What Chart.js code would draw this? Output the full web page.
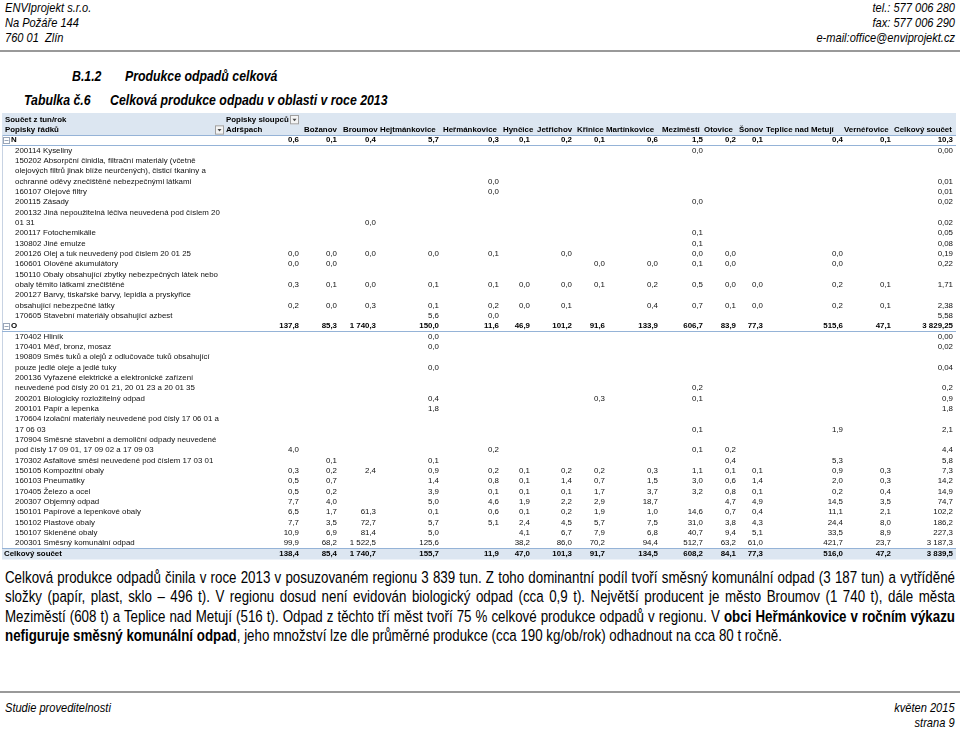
<!DOCTYPE html>
<html lang="cs">
<head>
<meta charset="utf-8">
<title>Celková produkce odpadu v oblasti v roce 2013</title>
<script src="https://cdn.jsdelivr.net/npm/chart.js@4.4.1/dist/chart.umd.min.js"></script>
<style>
  body { margin: 0; width: 960px; height: 731px; position: relative; background: #fff; color: #000;
         font-family: "Liberation Sans", Arial, sans-serif; overflow: hidden; }
  /* Arial Narrow look: Liberation Sans squeezed to 82 % */
  .abs { position: absolute; white-space: nowrap; transform: scaleX(0.82); transform-origin: left top; }
  .abs.r { transform-origin: right top; text-align: right; }
  .it { font-style: italic; font-size: 13.5px; line-height: 15px; }
  .rule { position: absolute; left: 0; width: 960px; height: 2px; background: #999; }
  .title { font-weight: bold; font-style: italic; font-size: 15px; line-height: 18px; }
  #table { position: absolute; left: 0; top: 113px; }
  .para { position: absolute; left: 5px; width: 1158.5px; font-size: 16.25px; line-height: 19.3px;
          transform: scaleX(0.82); transform-origin: left top; }
  .para div { text-align: justify; text-align-last: justify; white-space: nowrap; }
  .para div.last { text-align-last: left; }
</style>
</head>
<body>
<div class="abs it" style="left:5px;top:-0.5px">ENVIprojekt s.r.o.<br>Na Požáře 144<br>760 01&nbsp; Zlín</div>
<div class="abs it r" style="right:5px;top:-0.5px">tel.: 577 006 280<br>fax: 577 006 290<br>e-mail:office@enviprojekt.cz</div>
<div class="rule" style="top:50px"></div>

<div class="abs title" style="left:72px;top:67px">B.1.2</div>
<div class="abs title" style="left:125px;top:67px">Produkce odpadů celková</div>
<div class="abs title" style="left:24px;top:91px">Tabulka č.6</div>
<div class="abs title" style="left:110px;top:91px">Celková produkce odpadu v oblasti v roce 2013</div>

<canvas id="table" width="960" height="447"></canvas>

<div class="para" style="top:568px">
  <div>Celková produkce odpadů činila v roce 2013 v posuzovaném regionu 3 839 tun. Z toho dominantní podíl tvoří směsný komunální odpad (3 187 tun) a vytříděné</div>
  <div>složky (papír, plast, sklo – 496 t). V regionu dosud není evidován biologický odpad (cca 0,9 t). Největší producent je město Broumov (1 740 t), dále města</div>
  <div>Meziměstí (608 t) a Teplice nad Metují (516 t). Odpad z těchto tří měst tvoří 75 % celkové produkce odpadů v regionu. V <b>obci Heřmánkovice v ročním výkazu</b></div>
  <div class="last"><b>nefiguruje směsný komunální odpad</b>, jeho množství lze dle průměrné produkce (cca 190 kg/ob/rok) odhadnout na cca 80 t ročně.</div>
</div>

<div class="rule" style="top:691px"></div>
<div class="abs it" style="left:5px;top:699.5px">Studie proveditelnosti</div>
<div class="abs it r" style="right:5px;top:699.5px">květen 2015<br>strana 9</div>

<script>
// columns of the pivot table
const municipalities = ["Adršpach", "Božanov", "Broumov", "Hejtmánkovice", "Heřmánkovice", "Hynčice", "Jetřichov",
  "Křinice", "Martínkovice", "Meziměstí", "Otovice", "Šonov", "Teplice nad Metují", "Vernéřovice"];
const totalLabel = "Celkový součet";

// row labels (multi-line as wrapped in the sheet)
const rowLabels = [
  ["N"],
  ["200114 Kyseliny"],
  ["150202 Absorpční činidla, filtrační materiály (včetně", "olejových filtrů jinak blíže neurčených), čisticí tkaniny a", "ochranné oděvy znečištěné nebezpečnými látkami"],
  ["160107 Olejové filtry"],
  ["200115 Zásady"],
  ["200132 Jiná nepoužitelná léčiva neuvedená pod číslem 20", "01 31"],
  ["200117 Fotochemikálie"],
  ["130802 Jiné emulze"],
  ["200126 Olej a tuk neuvedený pod číslem 20 01 25"],
  ["160601 Olověné akumulátory"],
  ["150110 Obaly obsahující zbytky nebezpečných látek nebo", "obaly těmito látkami znečištěné"],
  ["200127 Barvy, tiskařské barvy, lepidla a pryskyřice", "obsahující nebezpečné látky"],
  ["170605 Stavební materiály obsahující azbest"],
  ["O"],
  ["170402 Hliník"],
  ["170401 Měď, bronz, mosaz"],
  ["190809 Směs tuků a olejů z odlučovače tuků obsahující", "pouze jedlé oleje a jedlé tuky"],
  ["200136 Vyřazené elektrické a elektronické zařízení", "neuvedené pod čísly 20 01 21, 20 01 23 a 20 01 35"],
  ["200201 Biologicky rozložitelný odpad"],
  ["200101 Papír a lepenka"],
  ["170604 Izolační materiály neuvedené pod čísly 17 06 01 a", "17 06 03"],
  ["170904 Směsné stavební a demoliční odpady neuvedené", "pod čísly 17 09 01, 17 09 02 a 17 09 03"],
  ["170302 Asfaltové směsi neuvedené pod číslem 17 03 01"],
  ["150105 Kompozitní obaly"],
  ["160103 Pneumatiky"],
  ["170405 Železo a ocel"],
  ["200307 Objemný odpad"],
  ["150101 Papírové a lepenkové obaly"],
  ["150102 Plastové obaly"],
  ["150107 Skleněné obaly"],
  ["200301 Směsný komunální odpad"],
  ["Celkový součet"]
];
const rowKinds = ["group", "item", "item", "item", "item", "item", "item", "item", "item", "item", "item", "item", "item",
  "group", "item", "item", "item", "item", "item", "item", "item", "item", "item", "item", "item", "item", "item",
  "item", "item", "item", "item", "total"];

// t/rok per municipality (order as municipalities), null = empty cell
const _ = null;
const rowValues = [
  [0.6, 0.1, 0.4, 5.7, 0.3, 0.1, 0.2, 0.1, 0.6, 1.5, 0.2, 0.1, 0.4, 0.1],
  [_, _, _, _, _, _, _, _, _, 0.0, _, _, _, _],
  [_, _, _, _, 0.0, _, _, _, _, _, _, _, _, _],
  [_, _, _, _, 0.0, _, _, _, _, _, _, _, _, _],
  [_, _, _, _, _, _, _, _, _, 0.0, _, _, _, _],
  [_, _, 0.0, _, _, _, _, _, _, _, _, _, _, _],
  [_, _, _, _, _, _, _, _, _, 0.1, _, _, _, _],
  [_, _, _, _, _, _, _, _, _, 0.1, _, _, _, _],
  [0.0, 0.0, 0.0, 0.0, 0.1, _, 0.0, _, _, 0.0, 0.0, _, 0.0, _],
  [0.0, 0.0, _, _, _, _, _, 0.0, 0.0, 0.1, 0.0, _, 0.0, _],
  [0.3, 0.1, 0.0, 0.1, 0.1, 0.0, 0.0, 0.1, 0.2, 0.5, 0.0, 0.0, 0.2, 0.1],
  [0.2, 0.0, 0.3, 0.1, 0.2, 0.0, 0.1, _, 0.4, 0.7, 0.1, 0.0, 0.2, 0.1],
  [_, _, _, 5.6, 0.0, _, _, _, _, _, _, _, _, _],
  [137.8, 85.3, 1740.3, 150.0, 11.6, 46.9, 101.2, 91.6, 133.9, 606.7, 83.9, 77.3, 515.6, 47.1],
  [_, _, _, 0.0, _, _, _, _, _, _, _, _, _, _],
  [_, _, _, 0.0, _, _, _, _, _, _, _, _, _, _],
  [_, _, _, 0.0, _, _, _, _, _, _, _, _, _, _],
  [_, _, _, _, _, _, _, _, _, 0.2, _, _, _, _],
  [_, _, _, 0.4, _, _, _, 0.3, _, 0.1, _, _, _, _],
  [_, _, _, 1.8, _, _, _, _, _, _, _, _, _, _],
  [_, _, _, _, _, _, _, _, _, 0.1, _, _, 1.9, _],
  [4.0, _, _, _, 0.2, _, _, _, _, 0.1, 0.2, _, _, _],
  [_, 0.1, _, 0.1, _, _, _, _, _, _, 0.4, _, 5.3, _],
  [0.3, 0.2, 2.4, 0.9, 0.2, 0.1, 0.2, 0.2, 0.3, 1.1, 0.1, 0.1, 0.9, 0.3],
  [0.5, 0.7, _, 1.4, 0.8, 0.1, 1.4, 0.7, 1.5, 3.0, 0.6, 1.4, 2.0, 0.3],
  [0.5, 0.2, _, 3.9, 0.1, 0.1, 0.1, 1.7, 3.7, 3.2, 0.8, 0.1, 0.2, 0.4],
  [7.7, 4.0, _, 5.0, 4.6, 1.9, 2.2, 2.9, 18.7, _, 4.7, 4.9, 14.5, 3.5],
  [6.5, 1.7, 61.3, 0.1, 0.6, 0.1, 0.2, 1.9, 1.0, 14.6, 0.7, 0.4, 11.1, 2.1],
  [7.7, 3.5, 72.7, 5.7, 5.1, 2.4, 4.5, 5.7, 7.5, 31.0, 3.8, 4.3, 24.4, 8.0],
  [10.9, 6.9, 81.4, 5.0, _, 4.1, 6.7, 7.9, 6.8, 40.7, 9.4, 5.1, 33.5, 8.9],
  [99.9, 68.2, 1522.5, 125.6, _, 38.2, 86.0, 70.2, 94.4, 512.7, 63.2, 61.0, 421.7, 23.7],
  [138.4, 85.4, 1740.7, 155.7, 11.9, 47.0, 101.3, 91.7, 134.5, 608.2, 84.1, 77.3, 516.0, 47.2]
];
const rowTotals = [10.3, 0.00, 0.01, 0.01, 0.02, 0.02, 0.05, 0.08, 0.19, 0.22, 1.71, 2.38, 5.58,
  3829.25, 0.00, 0.02, 0.04, 0.2, 0.9, 1.8, 2.1, 4.4, 5.8, 7.3, 14.2, 14.9, 74.7, 102.2, 186.2, 227.3, 3187.3, 3839.5];
const totalDecimals = [1, 2, 2, 2, 2, 2, 2, 2, 2, 2, 2, 2, 2,
  2, 2, 2, 2, 1, 1, 1, 1, 1, 1, 1, 1, 1, 1, 1, 1, 1, 1, 1];

// layout of the sheet (pixels)
const colLeft = [226, 304, 343, 380, 443, 503, 537, 577, 606, 662, 704, 739, 766, 844, 894];
const colRight = [299, 337, 376, 439, 499, 530, 572, 605, 658, 703, 736, 763, 843, 891, 953];
const FONT = "'Liberation Sans', Arial, sans-serif";
const fs = 7.9;
const headBg = "#dce6f1";
const lineCol = "#95b3d7";

function fmt(v, d) {
  const [i, f] = v.toFixed(d).split(".");
  return i.replace(/\B(?=(\d{3})+(?!\d))/g, " ") + (f ? "," + f : "");
}

// one sheet line per label line, plus two header lines
const lineIds = ["h0", "h1"];
const valueLine = [];
rowLabels.forEach((lines, r) => {
  lines.forEach((_l, k) => lineIds.push(r + "." + k));
  valueLine.push(lineIds[lineIds.length - 1]);
});

const columns = municipalities.concat([totalLabel]);
const datasets = columns.map((name, c) => {
  const data = [];
  rowValues.forEach((vals, r) => {
    const bold = rowKinds[r] !== "item";
    if (c < municipalities.length) {
      if (vals[c] !== null) data.push({ x: colRight[c], y: valueLine[r], text: fmt(vals[c], 1), bold });
    } else {
      data.push({ x: colRight[c], y: valueLine[r], text: fmt(rowTotals[r], totalDecimals[r]), bold });
    }
  });
  return { label: name, data, pointRadius: 0, showLine: false };
});

function dropButton(ctx, x, yTop, w, h) {
  ctx.fillStyle = "#f4f4f4";
  ctx.fillRect(x, yTop, w, h);
  ctx.strokeStyle = "#a0a0a0";
  ctx.lineWidth = 1;
  ctx.strokeRect(x + 0.5, yTop + 0.5, w - 1, h - 1);
  ctx.fillStyle = "#444";
  ctx.beginPath();
  const cx = x + w / 2, cy = yTop + h / 2;
  ctx.moveTo(cx - 2, cy - 1);
  ctx.lineTo(cx + 2, cy - 1);
  ctx.lineTo(cx, cy + 1.5);
  ctx.closePath();
  ctx.fill();
}

const sheetPlugin = {
  id: "sheet",
  beforeDatasetsDraw(chart) {
    const { ctx, scales: { x, y } } = chart;
    const step = y.getPixelForValue(1) - y.getPixelForValue(0);
    const top = (i) => y.getPixelForValue(i) - step / 2;
    const bot = (i) => y.getPixelForValue(i) + step / 2;
    const left = x.getPixelForValue(2), right = x.getPixelForValue(956);
    ctx.save();
    ctx.textBaseline = "middle";

    // header band
    ctx.fillStyle = headBg;
    ctx.fillRect(left, 0, right - left, bot(1));
    ctx.strokeStyle = lineCol;
    ctx.lineWidth = 1;
    ctx.beginPath();
    ctx.moveTo(left, Math.round(bot(1)) + 0.5);
    ctx.lineTo(right, Math.round(bot(1)) + 0.5);
    ctx.stroke();

    ctx.fillStyle = "#000";
    ctx.font = "bold " + fs + "px " + FONT;
    ctx.textAlign = "left";
    ctx.fillText("Součet z tun/rok", x.getPixelForValue(5), y.getPixelForValue(0));
    ctx.fillText("Popisky sloupců", x.getPixelForValue(colLeft[0]), y.getPixelForValue(0));
    ctx.fillText("Popisky řádků", x.getPixelForValue(5), y.getPixelForValue(1));
    columns.forEach((name, c) => {
      ctx.fillText(name, x.getPixelForValue(colLeft[c]), y.getPixelForValue(1));
    });
    dropButton(ctx, x.getPixelForValue(290), top(0) + 0.5, 9, step - 1);
    dropButton(ctx, x.getPixelForValue(215), top(1) + 0.5, 9, step - 1);

    // left border
    ctx.strokeStyle = "#c8d3e3";
    ctx.beginPath();
    ctx.moveTo(left + 0.5, bot(1));
    ctx.lineTo(left + 0.5, bot(lineIds.length - 1));
    ctx.stroke();

    // row labels
    let line = 2;
    rowLabels.forEach((lines, r) => {
      const kind = rowKinds[r];
      if (kind === "group") {
        const cy = y.getPixelForValue(line);
        ctx.strokeStyle = "#9aa6b8";
        ctx.strokeRect(x.getPixelForValue(3) + 0.5, Math.round(cy - 3) + 0.5, 6, 6);
        ctx.beginPath();
        ctx.moveTo(x.getPixelForValue(4.5), Math.round(cy) + 0.5);
        ctx.lineTo(x.getPixelForValue(8.5), Math.round(cy) + 0.5);
        ctx.stroke();
        ctx.fillStyle = "#000";
        ctx.font = "bold " + fs + "px " + FONT;
        ctx.fillText(lines[0], x.getPixelForValue(11), cy);
        ctx.strokeStyle = lineCol;
        ctx.beginPath();
        ctx.moveTo(left, Math.round(bot(line)) + 0.5);
        ctx.lineTo(right, Math.round(bot(line)) + 0.5);
        ctx.stroke();
      } else if (kind === "total") {
        ctx.fillStyle = headBg;
        ctx.fillRect(left, top(line), right - left, step + 1);
        ctx.strokeStyle = lineCol;
        ctx.beginPath();
        ctx.moveTo(left, Math.round(top(line)) + 0.5);
        ctx.lineTo(right, Math.round(top(line)) + 0.5);
        ctx.stroke();
        ctx.fillStyle = "#000";
        ctx.font = "bold " + fs + "px " + FONT;
        ctx.fillText(lines[0], x.getPixelForValue(4), y.getPixelForValue(line));
      } else {
        ctx.fillStyle = "#111";
        ctx.font = fs + "px " + FONT;
        lines.forEach((t, k) => ctx.fillText(t, x.getPixelForValue(15), y.getPixelForValue(line + k)));
      }
      line += lines.length;
    });
    ctx.restore();
  },
  afterDatasetsDraw(chart) {
    const { ctx } = chart;
    ctx.save();
    ctx.textAlign = "right";
    ctx.textBaseline = "middle";
    chart.data.datasets.forEach((ds, d) => {
      chart.getDatasetMeta(d).data.forEach((el, i) => {
        const raw = ds.data[i];
        ctx.font = (raw.bold ? "bold " : "") + fs + "px " + FONT;
        ctx.fillStyle = raw.bold ? "#000" : "#111";
        ctx.fillText(raw.text, el.x, el.y);
      });
    });
    ctx.restore();
  }
};

new Chart(document.getElementById("table"), {
  type: "scatter",
  data: { datasets },
  options: {
    responsive: false,
    animation: false,
    devicePixelRatio: 1,
    layout: { padding: { top: 1.5, bottom: 1.5, left: 0, right: 0 } },
    plugins: { legend: { display: false }, tooltip: { enabled: false } },
    scales: {
      x: { type: "linear", min: 0, max: 960, display: false },
      y: { type: "category", labels: lineIds, offset: true, display: false }
    }
  },
  plugins: [sheetPlugin]
});
</script>
</body>
</html>
